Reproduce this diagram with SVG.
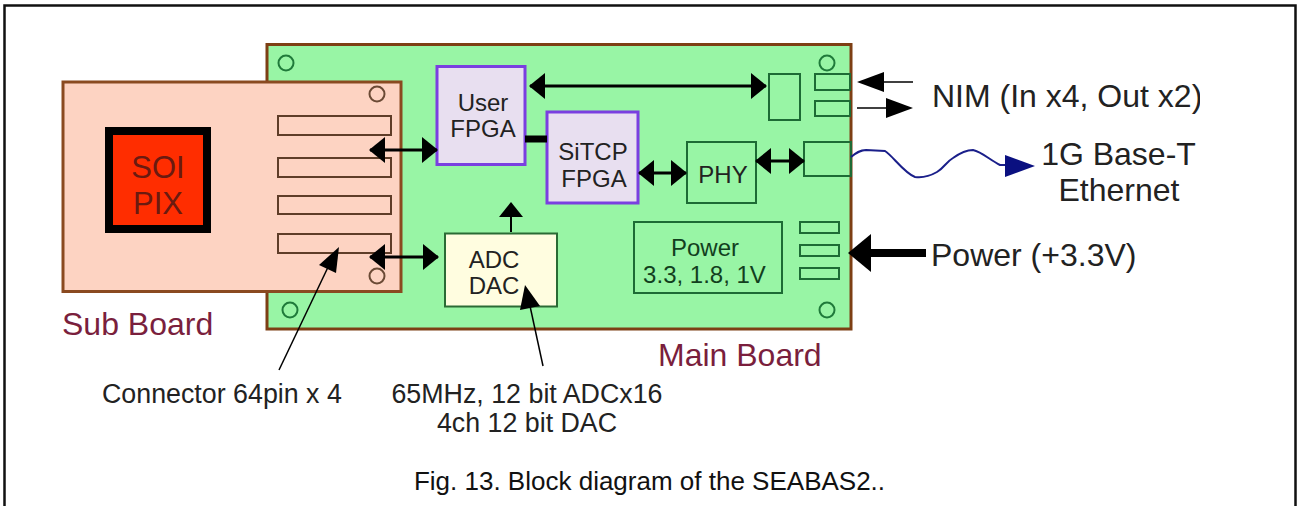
<svg xmlns="http://www.w3.org/2000/svg" width="1298" height="506" viewBox="0 0 1298 506">
<style>
text{font-family:"Liberation Sans",Arial,sans-serif;fill:#222}
.c{text-anchor:middle}
.hole{fill:none;stroke:#1f7a3a;stroke-width:2}
.subhole{fill:none;stroke:#6b4a35;stroke-width:2}
.part{fill:none;stroke:#1d6b35;stroke-width:2}
.slot{fill:none;stroke:#5f3d28;stroke-width:2}
.fpga{fill:#e8dff0;stroke:#7a3fe0;stroke-width:3}
.lbl{font-size:24px}
.red{fill:#7a1f3d;font-size:32px}
.out{font-size:32px}
.note{font-size:26.800px}
.ln{stroke:#000;fill:none}
.hd{fill:#000}
</style>
<defs>
<marker id="dbl" markerWidth="16" markerHeight="26" refX="15" refY="13" orient="auto-start-reverse" markerUnits="userSpaceOnUse"><path d="M0 0L16 13L0 26Z" fill="#000"/></marker>
<clipPath id="nimclip"><rect x="925" y="70" width="275" height="50"/></clipPath>
</defs>
<path d="M4.500 506V5.500H1295.500V506" fill="none" stroke="#111" stroke-width="2.500"/>

<g id="main-board">
<rect x="267" y="44.500" width="584" height="284.500" fill="#98f5a5" stroke="#7d3f14" stroke-width="3"/>
<circle class="hole" cx="286" cy="63" r="7.500"/>
<circle class="hole" cx="290" cy="310" r="7.500"/>
<circle class="hole" cx="827" cy="63" r="7.500"/>
<circle class="hole" cx="827" cy="310" r="7.500"/>
<text class="red" x="658" y="366">Main Board</text>
</g>

<g id="sub-board">
<rect x="63" y="82" width="338" height="209.500" fill="#fdd3c2" stroke="#8a4a20" stroke-width="3"/>
<circle class="subhole" cx="377" cy="94" r="7.500"/>
<circle class="subhole" cx="377" cy="276" r="7.500"/>
<rect class="slot" x="278" y="116" width="113" height="19"/>
<rect class="slot" x="278" y="158" width="113" height="19"/>
<rect class="slot" x="278" y="196" width="113" height="18"/>
<rect class="slot" x="278" y="234" width="113" height="19"/>
<text class="red" x="62" y="335">Sub Board</text>
</g>

<g id="soi-pix">
<rect x="109" y="131" width="98" height="98" fill="#ff2d00" stroke="#000" stroke-width="8"/>
<text class="c" x="158" y="178" style="font-size:31px;fill:#6a1a10">SOI</text>
<text class="c" x="158" y="214" style="font-size:31px;fill:#6a1a10">PIX</text>
</g>

<g id="user-fpga">
<rect class="fpga" x="437" y="66.500" width="88" height="98"/>
<text class="c lbl" x="483" y="111">User</text>
<text class="c lbl" x="483" y="137">FPGA</text>
</g>

<g id="sitcp-fpga">
<rect class="fpga" x="547" y="112" width="91" height="91"/>
<text class="c lbl" x="593" y="160">SiTCP</text>
<text class="c lbl" x="594" y="187">FPGA</text>
</g>

<g id="phy">
<rect class="part" x="687" y="142" width="69" height="61"/>
<text class="c lbl" x="723" y="183">PHY</text>
</g>

<g id="adc-dac">
<rect x="445" y="233.500" width="112" height="73" fill="#fffde0" stroke="#2a6b35" stroke-width="2"/>
<text class="c lbl" x="494" y="268">ADC</text>
<text class="c lbl" x="494" y="294">DAC</text>
</g>

<g id="power">
<rect class="part" x="634" y="222" width="148" height="71"/>
<text class="c lbl" x="705" y="256" style="fill:#123f1e">Power</text>
<text class="c" x="704.500" y="283" style="font-size:24px;fill:#123f1e">3.3, 1.8, 1V</text>
<rect class="part" x="800" y="222" width="39" height="11"/>
<rect class="part" x="800" y="245" width="39" height="11"/>
<rect class="part" x="800" y="268" width="39" height="11"/>
</g>

<g id="nim-connectors">
<rect class="part" x="769" y="74" width="31" height="46"/>
<rect class="part" x="815" y="74" width="35" height="16"/>
<rect class="part" x="815" y="101" width="35" height="15"/>
</g>

<g id="ethernet-connector">
<rect class="part" x="804" y="142" width="47" height="34"/>
</g>

<g id="connectors">
<path class="ln" stroke-width="3" marker-start="url(#dbl)" marker-end="url(#dbl)" d="M530 86H766"/>
<path class="ln" stroke-width="3" marker-start="url(#dbl)" marker-end="url(#dbl)" d="M370 150H437"/>
<path class="ln" stroke-width="3" marker-start="url(#dbl)" marker-end="url(#dbl)" d="M370 257H438"/>
<path class="ln" stroke-width="3" marker-start="url(#dbl)" marker-end="url(#dbl)" d="M639 173H686"/>
<path class="ln" stroke-width="3" marker-start="url(#dbl)" marker-end="url(#dbl)" d="M756 161H804"/>
<path class="ln" stroke-width="7" d="M525 139H547"/>
<path class="ln" stroke-width="2" d="M511 232V215"/>
<path class="hd" d="M511 202L523 217H499Z"/>
<path class="ln" stroke-width="1.500" d="M279 370L330 263"/>
<path class="hd" d="M339 247L336 273L319 265Z"/>
<path class="ln" stroke-width="1.500" d="M543 366L530 306"/>
<path class="hd" d="M525 285L540 306L520 310Z"/>
<path class="ln" stroke-width="1.500" d="M913 82H880"/>
<path class="hd" d="M857 82L884 72V92Z"/>
<path class="ln" stroke-width="1.500" d="M857 108H890"/>
<path class="hd" d="M913 108L886 98V118Z"/>
<path class="ln" stroke-width="8" d="M865 253H926"/>
<path class="hd" d="M848 253L871 234V272Z"/>
<path d="M851 157C856 153 860 150 866 150L885 151C892 155 904 173 915 177C922 178 930 176 937 172C944 168 946 162 953 158C960 153 966 150 973 150C982 152 990 160 1000 165L1006 165" fill="none" stroke="#1a1f8a" stroke-width="2"/>
<path d="M1005 155L1035 166L1005 177Z" fill="#0a1080"/>
</g>

<g id="labels">
<text class="out" x="932" y="107" clip-path="url(#nimclip)">NIM (In x4, Out x2)</text>
<text class="c out" x="1118.500" y="165">1G Base-T</text>
<text class="c out" x="1119" y="201">Ethernet</text>
<text class="out" x="931" y="266">Power (+3.3V)</text>
<text class="note" x="102" y="403">Connector 64pin x 4</text>
<text class="c note" x="527" y="403">65MHz, 12 bit ADCx16</text>
<text class="c note" x="527" y="432">4ch 12 bit DAC</text>
<text class="c" x="649.500" y="490" style="font-size:26px;fill:#111">Fig. 13. Block diagram of the SEABAS2..</text>
</g>
</svg>
